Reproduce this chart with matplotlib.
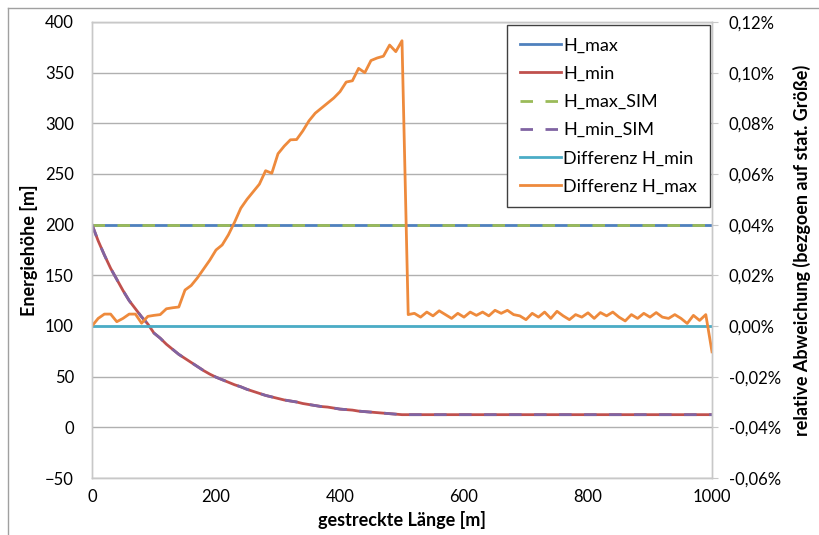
import numpy as np
import matplotlib
matplotlib.use("Agg")
import matplotlib.pyplot as plt
from matplotlib.lines import Line2D
from matplotlib.ticker import FuncFormatter, MultipleLocator

plt.rcParams.update({
    "font.family": ["Lato", "DejaVu Sans"],
    "font.size": 12,
})

# ---------------------------------------------------------------------------
# Daten
# ---------------------------------------------------------------------------
laenge_konst = [0, 1000]
h_max = [200, 200]
h_max_sim = [200, 200]
diff_h_min = [0.0, 0.0]

laenge_hmin = [0, 10, 20, 30, 40, 50, 60, 70, 80, 90,
               100, 110, 120, 130, 140, 150, 160, 170, 180, 190,
               200, 210, 220, 230, 240, 250, 260, 270, 280, 290,
               300, 310, 320, 330, 340, 350, 360, 370, 380, 390,
               400, 410, 420, 430, 440, 450, 460, 470, 480, 490,
               500, 1000]
h_min = [200, 184, 170, 157, 146, 135, 125, 117, 109, 102,
         93, 88, 82, 77, 72, 68, 64, 60, 56, 52.5,
         49.5, 47, 44.5, 42, 40, 37.5, 35.5, 33.5, 31.5, 30,
         28.5, 27, 26, 25, 23.5, 22.5, 21.5, 20.5, 20, 19,
         18, 17.5, 17, 16, 15.5, 15, 14.5, 14, 13.5, 13,
         12.5, 12.5]
h_min_sim = h_min

laenge = np.arange(0, 1001, 10)
# relative Abweichung in Prozent
diff_h_max = [
    0.0000, 0.0030, 0.0047, 0.0047, 0.0017, 0.0030, 0.0047, 0.0047, 0.0011, 0.0038,  # 0-90
    0.0042, 0.0045, 0.0068, 0.0072, 0.0075, 0.0142, 0.0160, 0.0190, 0.0225, 0.0260,  # 100-190
    0.0300, 0.0320, 0.0360, 0.0410, 0.0465, 0.0500, 0.0530, 0.0560, 0.0613, 0.0603,  # 200-290
    0.0680, 0.0710, 0.0735, 0.0736, 0.0770, 0.0810, 0.0840, 0.0860, 0.0880, 0.0900,  # 300-390
    0.0925, 0.0963, 0.0968, 0.1017, 0.1000, 0.1048, 0.1058, 0.1065, 0.1109, 0.1083,  # 400-490
    0.1126, 0.0045, 0.0050, 0.0035, 0.0055, 0.0040, 0.0060, 0.0045, 0.0030, 0.0050,  # 500-590
    0.0035, 0.0055, 0.0042, 0.0055, 0.0040, 0.0062, 0.0050, 0.0062, 0.0045, 0.0040,  # 600-690
    0.0025, 0.0050, 0.0035, 0.0055, 0.0030, 0.0058, 0.0040, 0.0025, 0.0045, 0.0035,  # 700-790
    0.0052, 0.0030, 0.0053, 0.0040, 0.0055, 0.0035, 0.0020, 0.0045, 0.0030, 0.0050,  # 800-890
    0.0035, 0.0053, 0.0035, 0.0030, 0.0045, 0.0030, 0.0010, 0.0042, 0.0022, 0.0045,  # 900-990
    -0.0102,                                                                          # 1000
]

# Excel-2010-Farben
C_BLAU = "#4F81BD"
C_ROT = "#C0504D"
C_GRUEN = "#9BBB59"
C_LILA = "#8064A2"
C_TUERKIS = "#4BACC6"
C_ORANGE = "#EE8A3C"
C_GRID = "#B0B0B0"

fig = plt.figure(figsize=(8.19, 5.35), dpi=100)
ax = fig.add_axes([92 / 819, 1 - 478 / 535, 620 / 819, 456 / 535])
ax2 = ax.twinx()

lw = 2.0
ax.plot(laenge_konst, h_max, color=C_BLAU, lw=lw, label="H_max")
ax.plot(laenge_hmin, h_min, color=C_ROT, lw=lw, label="H_min")
ax.plot(laenge_konst, h_max_sim, color=C_GRUEN, lw=lw, ls=(0, (4.5, 4.5)), label="H_max_SIM")
ax.plot(laenge_hmin, h_min_sim, color=C_LILA, lw=lw, ls=(0, (4.5, 4.5)), label="H_min_SIM")
ax2.plot(laenge_konst, diff_h_min, color=C_TUERKIS, lw=lw, label="Differenz H_min")
ax2.plot(laenge, diff_h_max, color=C_ORANGE, lw=lw, label="Differenz H_max")

ax.set_xlim(0, 1000)
ax.set_ylim(-50, 400)
ax2.set_ylim(-0.06, 0.12)
ax.xaxis.set_major_locator(MultipleLocator(200))
ax.yaxis.set_major_locator(MultipleLocator(50))
ax2.yaxis.set_major_locator(MultipleLocator(0.02))
ax2.yaxis.set_major_formatter(FuncFormatter(lambda v, p: f"{v:.2f}%".replace(".", ",")))

ax.grid(axis="y", color=C_GRID, lw=1)
ax.set_axisbelow(True)
for a in (ax, ax2):
    for s in a.spines.values():
        s.set_color("#C8C8C8")
        s.set_linewidth(1)
ax.tick_params(axis="y", length=0, pad=13, colors="#000000")
ax.tick_params(axis="x", length=0, pad=8)
ax2.tick_params(axis="y", length=4, pad=8, color="#C8C8C8")

ax.set_xlabel("gestreckte Länge [m]", fontweight="bold", fontsize=13, labelpad=4)
ax.set_ylabel("Energiehöhe [m]", fontweight="bold", fontsize=13, labelpad=5)
ax2.set_ylabel("relative Abweichung (bezgoen auf stat. Größe)", fontweight="bold",
               fontsize=13, labelpad=9)

h1, l1 = ax.get_legend_handles_labels()
h2, l2 = ax2.get_legend_handles_labels()
leg = ax2.legend(h1 + h2, l1 + l2, loc="upper right", bbox_to_anchor=(0.996, 0.994),
                 borderaxespad=0, fancybox=False, framealpha=1, edgecolor="#404040",
                 handlelength=2.3, handletextpad=0.1, labelspacing=0.68,
                 borderpad=0.7, fontsize=13)
leg.get_frame().set_linewidth(1)

# Rahmen des Diagrammbereichs (oben und links sichtbar)
fig.add_artist(Line2D([8 / 819, 8 / 819], [0, 1 - 8 / 535], color="#A0A0A0", lw=1))
fig.add_artist(Line2D([8 / 819, 1], [1 - 8 / 535, 1 - 8 / 535], color="#A0A0A0", lw=1))

fig.savefig("out.png", dpi=100)
